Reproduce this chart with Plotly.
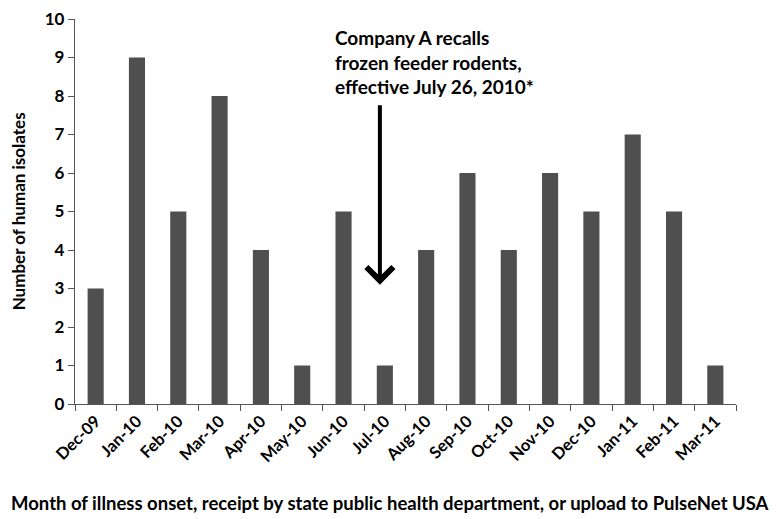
import plotly.graph_objects as go

months = ["Dec-09", "Jan-10", "Feb-10", "Mar-10", "Apr-10", "May-10", "Jun-10", "Jul-10",
          "Aug-10", "Sep-10", "Oct-10", "Nov-10", "Dec-10", "Jan-11", "Feb-11", "Mar-11"]
isolates = [3, 9, 5, 8, 4, 1, 5, 1, 4, 6, 4, 6, 5, 7, 5, 1]
y_ticks = list(range(0, 11))

FONT = "Lato"
W = "bold"

fig = go.Figure()
fig.add_trace(go.Bar(x=months, y=isolates, marker=dict(color="#4f4f4f", line=dict(width=0)),
                     width=0.39))

fig.add_annotation(x=6.88, y=3.1, ax=6.88, ay=7.8, xref="x", yref="y", axref="x", ayref="y",
                   text="", showarrow=True, arrowhead=4, arrowsize=1.3, arrowwidth=4,
                   arrowcolor="#000000")
fig.add_annotation(x=5.75, y=9.88, xref="x", yref="y", xanchor="left", yanchor="top",
                   text="Company A recalls<br>frozen feeder rodents,<br>effective July 26, 2010*",
                   showarrow=False, align="left",
                   font=dict(family=FONT, size=19, color="#000000", weight=W))
fig.add_annotation(x=0.4766, y=-0.257, xref="paper", yref="paper", xanchor="center", yanchor="middle",
                   text="Month of illness onset, receipt by state public health department, or upload to PulseNet USA",
                   showarrow=False,
                   font=dict(family=FONT, size=18.5, color="#000000", weight=W))
fig.add_annotation(x=-0.085, y=0.5, xref="paper", yref="paper", xanchor="center", yanchor="middle",
                   text="Number of human isolates", textangle=-90, showarrow=False,
                   font=dict(family=FONT, size=17, color="#000000", weight=W))

fig.update_layout(
    width=772, height=511,
    margin=dict(l=67, r=44, t=11, b=115),
    paper_bgcolor="white", plot_bgcolor="white",
    showlegend=False,
    font=dict(family=FONT, color="#000000"),
    xaxis=dict(type="category", tickson="boundaries", ticks="outside", ticklen=6,
               tickcolor="#555", showline=True, linecolor="#555", linewidth=1.3,
               tickangle=-45, tickfont=dict(family=FONT, size=16.5, color="#000", weight=W),
               showgrid=False, range=[-0.5, 15.5], automargin=False),
    yaxis=dict(range=[0, 10], tickvals=y_ticks, ticks="outside", ticklen=6, tickcolor="#555",
               showline=True, linecolor="#555", linewidth=1.3, showgrid=False, zeroline=False,
               automargin=False, ticklabeloverflow="allow",
               tickfont=dict(family=FONT, size=17, color="#000", weight=W)),
)

fig.write_html("out.html")
